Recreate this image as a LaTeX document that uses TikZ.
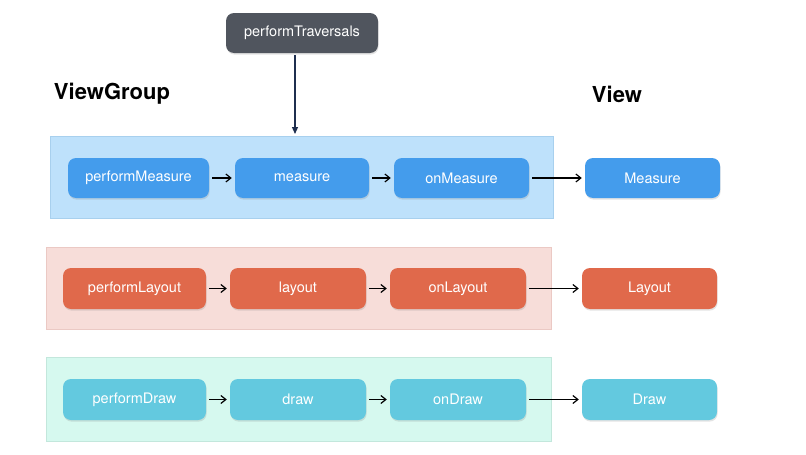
\documentclass[tikz,border=0pt]{standalone}
\usepackage{fontspec}
\setmainfont{TeX Gyre Heros}
\usetikzlibrary{arrows.meta,shadows}
\definecolor{darkbox}{HTML}{50555E}
\definecolor{navy}{HTML}{1F2F4F}
\definecolor{bluebox}{HTML}{449CEC}
\definecolor{blueband}{HTML}{BEE1FB}
\definecolor{bluebandline}{HTML}{A8D0EE}
\definecolor{redbox}{HTML}{E0694B}
\definecolor{redband}{HTML}{F7DDD9}
\definecolor{redbandline}{HTML}{EBC9C4}
\definecolor{cyanbox}{HTML}{63C9DF}
\definecolor{greenband}{HTML}{D6F9EF}
\definecolor{greenbandline}{HTML}{C3E7DC}
\tikzset{
  boxstyle/.style={rounded corners=8pt, minimum height=40pt, inner sep=0pt,
    text=white, font=\fontsize{14.5}{16}\selectfont,
    drop shadow={shadow xshift=0.6pt, shadow yshift=-1.6pt, opacity=0.22}},
  bluestyle/.style={boxstyle, fill=bluebox},
  redstyle/.style={boxstyle, fill=redbox},
  cyanstyle/.style={boxstyle, fill=cyanbox},
  flow/.style={-{Straight Barb[length=5pt,width=8pt]}, line width=1.2pt, black, shorten <=3pt, shorten >=3pt},
  heading/.style={font=\fontsize{22}{24}\selectfont\bfseries, text=black, inner sep=0pt}
}
\begin{document}
\begin{tikzpicture}[x=1pt,y=-1pt]
\useasboundingbox[fill=white] (0,0) rectangle (806,455);

% bands
\draw[fill=blueband, draw=bluebandline, line width=0.6pt] (50,136) rectangle (553,218);
\draw[fill=redband, draw=redbandline, line width=0.6pt] (46,247) rectangle (551,329);
\draw[fill=greenband, draw=greenbandline, line width=0.6pt] (46,357) rectangle (551,441);

% top node
\node[boxstyle, fill=darkbox, minimum width=152pt] (pt) at (302,33) {performTraversals};
\coordinate (tgt) at (295,134);
\draw[-{Triangle[length=7pt,width=6pt]}, line width=1.2pt, navy] (pt.south -| tgt) ++(0,2) -- (tgt);

% headings
\node[heading] (vg) at (112,94) {ViewGroup};
\node[heading] (v) at (617,94) {View};

% row 1
\node[bluestyle, minimum width=141pt] (pm) at (138.5,178) {performMeasure};
\node[bluestyle, minimum width=134pt] (m) at (302,178) {measure};
\node[bluestyle, minimum width=135pt] (om) at (461.5,178) {onMeasure};
\node[bluestyle, minimum width=135pt] (M) at (652.5,178) {Measure};
\draw[flow] (pm) -- (m);
\draw[flow] (m) -- (om);
\draw[flow] (om) -- (M);

% row 2
\node[redstyle, minimum width=143pt, minimum height=41pt] (pl) at (134.5,288.5) {performLayout};
\node[redstyle, minimum width=136pt, minimum height=41pt] (l) at (298,288.5) {layout};
\node[redstyle, minimum width=136pt, minimum height=41pt] (ol) at (458,288.5) {onLayout};
\node[redstyle, minimum width=135pt, minimum height=41pt] (L) at (649.5,288.5) {Layout};
\draw[flow] (pl) -- (l);
\draw[flow] (l) -- (ol);
\draw[flow] (ol) -- (L);

% row 3
\node[cyanstyle, minimum width=143pt, minimum height=41pt] (pd) at (134.5,399.5) {performDraw};
\node[cyanstyle, minimum width=136pt, minimum height=41pt] (d) at (298,399.5) {draw};
\node[cyanstyle, minimum width=136pt, minimum height=41pt] (od) at (458,399.5) {onDraw};
\node[cyanstyle, minimum width=135pt, minimum height=41pt] (D) at (649.5,399.5) {Draw};
\draw[flow] (pd) -- (d);
\draw[flow] (d) -- (od);
\draw[flow] (od) -- (D);
\end{tikzpicture}
\end{document}
